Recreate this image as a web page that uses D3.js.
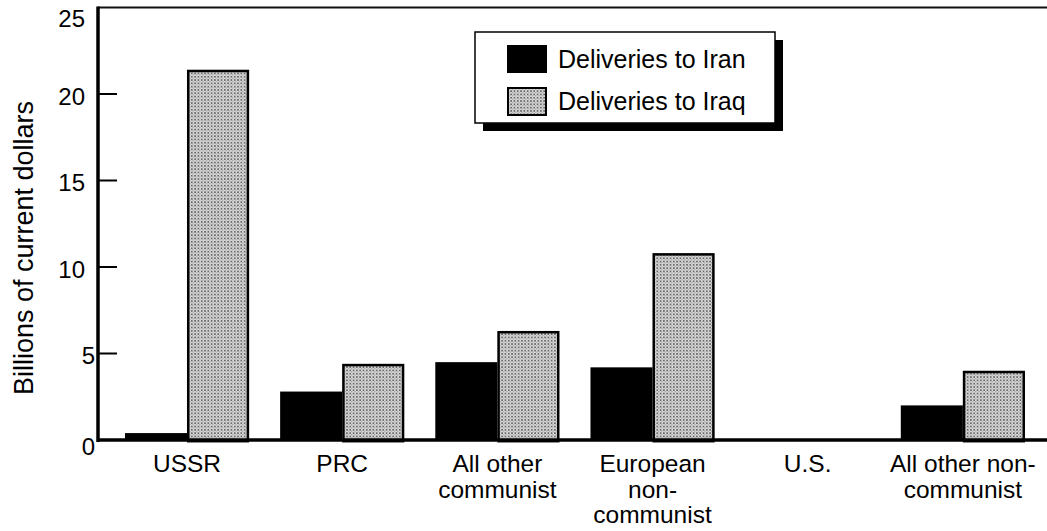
<!DOCTYPE html>
<html>
<head>
<meta charset="utf-8">
<script src="https://cdn.jsdelivr.net/npm/d3@7"></script>
<style>
  body { margin: 0; background: #fff; }
  svg { display: block; font-family: "Liberation Sans", Arial, Helvetica, sans-serif; }
</style>
</head>
<body>
<div id="chart"></div>
<script>
// values (billions of current dollars)
const categories = ["USSR", "PRC", "All other communist", "European non-communist", "U.S.", "All other non-communist"];
const categoryLines = [["USSR"], ["PRC"], ["All other", "communist"], ["European", "non-", "communist"], ["U.S."], ["All other non-", "communist"]];
const seriesKeys = ["Iran", "Iraq"];
const seriesLabels = ["Deliveries to Iran", "Deliveries to Iraq"];
const iranValues = [0.4, 2.8, 4.5, 4.2, 0, 2.0];
const iraqValues = [21.4, 4.4, 6.3, 10.8, 0, 4.0];
const yTicks = [0, 5, 10, 15, 20, 25];

const width = 1047, height = 531;
const plotLeft = 98, plotRight = 1047, plotTop = 7.5, plotBottom = 440;

const svg = d3.select("#chart").append("svg")
    .attr("width", width)
    .attr("height", height);

// dotted screen used for the Iraq bars
const defs = svg.append("defs");
const pat = defs.append("pattern")
    .attr("id", "stipple")
    .attr("patternUnits", "userSpaceOnUse")
    .attr("width", 3.3)
    .attr("height", 3.3);
pat.append("rect").attr("width", 3.3).attr("height", 3.3).attr("fill", "#d8d8d8");
pat.append("rect").attr("width", 1.65).attr("height", 1.65).attr("fill", "#686868");
pat.append("rect").attr("x", 1.65).attr("y", 1.65).attr("width", 1.2).attr("height", 1.2).attr("fill", "#a0a0a0");

const x = d3.scaleBand()
    .domain(categories)
    .range([plotLeft, plotRight])
    .paddingInner(0.2)
    .paddingOuter(0.158)
    .align(0.55);

const xs = d3.scaleBand()
    .domain(seriesKeys)
    .range([0, x.bandwidth()]);

const y = d3.scaleLinear()
    .domain([0, 25])
    .range([plotBottom, plotTop]);

const rows = categories.map((c, i) => ({ cat: c, Iran: iranValues[i], Iraq: iraqValues[i] }));

const fills = { Iran: "#000", Iraq: "url(#stipple)" };

// bars
const groups = svg.append("g")
    .selectAll("g")
    .data(rows)
    .join("g")
    .attr("transform", d => `translate(${x(d.cat)},0)`);

groups.selectAll("rect")
    .data(d => seriesKeys.map(k => ({ key: k, value: d[k] })).filter(d => d.value > 0))
    .join("rect")
    .attr("x", d => xs(d.key) + (d.key === "Iraq" ? 1.2 : 0))
    .attr("width", d => xs.bandwidth() - (d.key === "Iraq" ? 2.4 : 0))
    .attr("y", d => y(d.value) + (d.key === "Iraq" ? 1.2 : 0))
    .attr("height", d => y(0) - y(d.value))
    .attr("fill", d => fills[d.key])
    .attr("stroke", d => d.key === "Iraq" ? "#000" : "none")
    .attr("stroke-width", 2.5);

// frame: top rule, left axis, base line
svg.append("line")
    .attr("x1", plotLeft).attr("x2", plotRight)
    .attr("y1", y(25)).attr("y2", y(25))
    .attr("stroke", "#111").attr("stroke-width", 2);

svg.append("line")
    .attr("x1", plotLeft).attr("x2", plotLeft)
    .attr("y1", y(25) - 1).attr("y2", y(0) + 2)
    .attr("stroke", "#000").attr("stroke-width", 3.5);

svg.append("line")
    .attr("x1", plotLeft).attr("x2", plotRight)
    .attr("y1", y(0)).attr("y2", y(0))
    .attr("stroke", "#000").attr("stroke-width", 3.5);

// tick labels; the scan sets single digits closer to the axis,
// and nudges 0 and 25 away from the frame lines
const yAxis = d3.axisLeft(y)
    .tickValues(yTicks)
    .tickSize(0)
    .tickPadding(13);

const ya = svg.append("g")
    .attr("transform", `translate(${plotLeft},0)`)
    .call(yAxis);
ya.select(".domain").remove();
ya.selectAll("text")
    .attr("font-size", 24)
    .attr("font-family", "inherit")
    .attr("fill", "#000")
    .attr("x", d => d < 10 ? -3 : -13)
    .attr("dy", d => d === 25 ? 19 : d === 0 ? 14 : 10);

// inward ticks
svg.append("g")
    .selectAll("line")
    .data(yTicks.filter(t => t > 0 && t < 25))
    .join("line")
    .attr("x1", plotLeft).attr("x2", plotLeft + 19)
    .attr("y1", d => y(d)).attr("y2", d => y(d))
    .attr("stroke", "#000").attr("stroke-width", 2);

// y title
svg.append("text")
    .attr("transform", "translate(33,248) rotate(-90)")
    .attr("text-anchor", "middle")
    .attr("font-size", 27)
    .text("Billions of current dollars");

// category labels
const catLabels = svg.append("g")
    .selectAll("text")
    .data(categories)
    .join("text")
    .attr("x", d => x(d) + x.bandwidth() / 2)
    .attr("y", 472)
    .attr("text-anchor", "middle")
    .attr("font-size", 24.5);

catLabels.selectAll("tspan")
    .data((d, i) => categoryLines[i])
    .join("tspan")
    .attr("x", function () { return this.parentNode.getAttribute("x"); })
    .attr("dy", (d, i) => i === 0 ? 0 : 25.5)
    .text(d => d);

// legend with drop shadow
const lg = svg.append("g").attr("transform", "translate(475,32)");
lg.append("rect")
    .attr("x", 8).attr("y", 8)
    .attr("width", 300).attr("height", 91)
    .attr("fill", "#000");
lg.append("rect")
    .attr("width", 300).attr("height", 91)
    .attr("fill", "#fff")
    .attr("stroke", "#000")
    .attr("stroke-width", 1.5);

const li = lg.selectAll("g.item")
    .data(seriesKeys)
    .join("g")
    .attr("class", "item")
    .attr("transform", (d, i) => `translate(32,${13 + i * 42})`);

li.append("rect")
    .attr("x", d => d === "Iraq" ? 1 : 0)
    .attr("y", d => d === "Iraq" ? 1 : 0)
    .attr("width", d => d === "Iraq" ? 38 : 40)
    .attr("height", d => d === "Iraq" ? 27 : 28)
    .attr("fill", d => fills[d])
    .attr("stroke", d => d === "Iraq" ? "#000" : "none")
    .attr("stroke-width", 2);

li.append("text")
    .attr("x", 51)
    .attr("y", 14)
    .attr("dy", "0.36em")
    .attr("font-size", 25)
    .text((d, i) => seriesLabels[i]);
</script>
</body>
</html>
